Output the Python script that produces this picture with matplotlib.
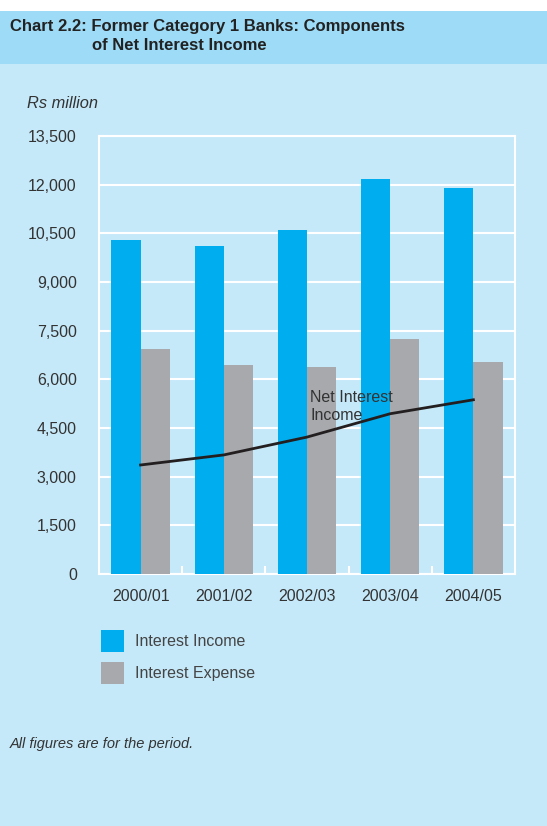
import matplotlib.pyplot as plt
import matplotlib.patches as mpatches
import numpy as np

plt.rcParams['font.family'] = ['Liberation Sans', 'DejaVu Sans']

# Components of net interest income, Rs million
years = ['2000/01', '2001/02', '2002/03', '2003/04', '2004/05']
interest_income = [10300, 10110, 10600, 12180, 11900]
interest_expense = [6940, 6440, 6380, 7240, 6530]
net_interest = [i - e for i, e in zip(interest_income, interest_expense)]

BG = '#c6e9f9'
BAND = '#9ddbf6'
BLUE = '#00aeef'
GREY = '#a7a9ac'
TXT = '#333333'

W, H = 547, 826
fig = plt.figure(figsize=(W / 100, H / 100), dpi=100, facecolor='white')

# page background and title band
fig.patches.append(mpatches.Rectangle((0, 0), 1, 1 - 11 / H, transform=fig.transFigure,
                                      facecolor=BG, edgecolor='none', zorder=-2))
fig.patches.append(mpatches.Rectangle((0, 1 - 64 / H), 1, 53 / H, transform=fig.transFigure,
                                      facecolor=BAND, edgecolor='none', zorder=-1))
fig.text(10 / W, 1 - 27 / H, 'Chart 2.2: Former Category 1 Banks: Components',
         fontsize=12, fontweight='bold', color='#222222', va='center')
fig.text(92 / W, 1 - 46 / H, 'of Net Interest Income',
         fontsize=12, fontweight='bold', color='#222222', va='center')
fig.text(27 / W, 1 - 104 / H, 'Rs million', fontsize=11.8, style='italic', color=TXT, va='center')
fig.text(10 / W, 1 - 744 / H, 'All figures are for the period.', fontsize=10.5,
         style='italic', color=TXT, va='center')

ax = fig.add_axes([99 / W, (H - 574) / H, 416 / W, 438 / H])
ax.set_facecolor(BG)

x = np.arange(len(years))
bw = 0.35
b1 = ax.bar(x - bw / 2, interest_income, bw, color=BLUE, label='Interest Income', zorder=3)
b2 = ax.bar(x + bw / 2, interest_expense, bw, color=GREY, label='Interest Expense', zorder=3)
ax.plot(x, net_interest, color='#231f20', lw=2, zorder=4)
ax.text(2.04, 5150, 'Net Interest\nIncome', fontsize=11.5, color=TXT, va='center',
        ha='left', zorder=5, linespacing=1.25)

ax.set_xlim(-0.5, len(years) - 0.5)
ax.set_ylim(0, 13500)
ax.set_yticks(np.arange(0, 13501, 1500))
ax.set_yticklabels([f'{v:,}' for v in range(0, 13501, 1500)])
ax.set_xticks(x)
ax.set_xticklabels(years)
ax.set_xticks(np.arange(0.5, len(years) - 1, 1), minor=True)
ax.grid(axis='y', color='white', lw=1.5, zorder=1)
for s in ax.spines.values():
    s.set_color('white')
    s.set_linewidth(1.5)
ax.tick_params(axis='y', length=0, pad=16, labelsize=11.5, labelcolor=TXT)
ax.tick_params(axis='x', which='major', length=0, pad=11, labelsize=11.5, labelcolor=TXT)
ax.tick_params(axis='x', which='minor', direction='in', length=6, width=1.5, color='white')

fig.legend(handles=[b1, b2], loc='upper left', bbox_to_anchor=(101 / W, 1 - 630 / H),
           frameon=False, fontsize=11.5, handlelength=1.44, handleheight=1.74,
           labelspacing=0.6, handletextpad=0.69, borderpad=0, borderaxespad=0,
           labelcolor='#444444')

fig.savefig('out.png', dpi=100, facecolor='white')
